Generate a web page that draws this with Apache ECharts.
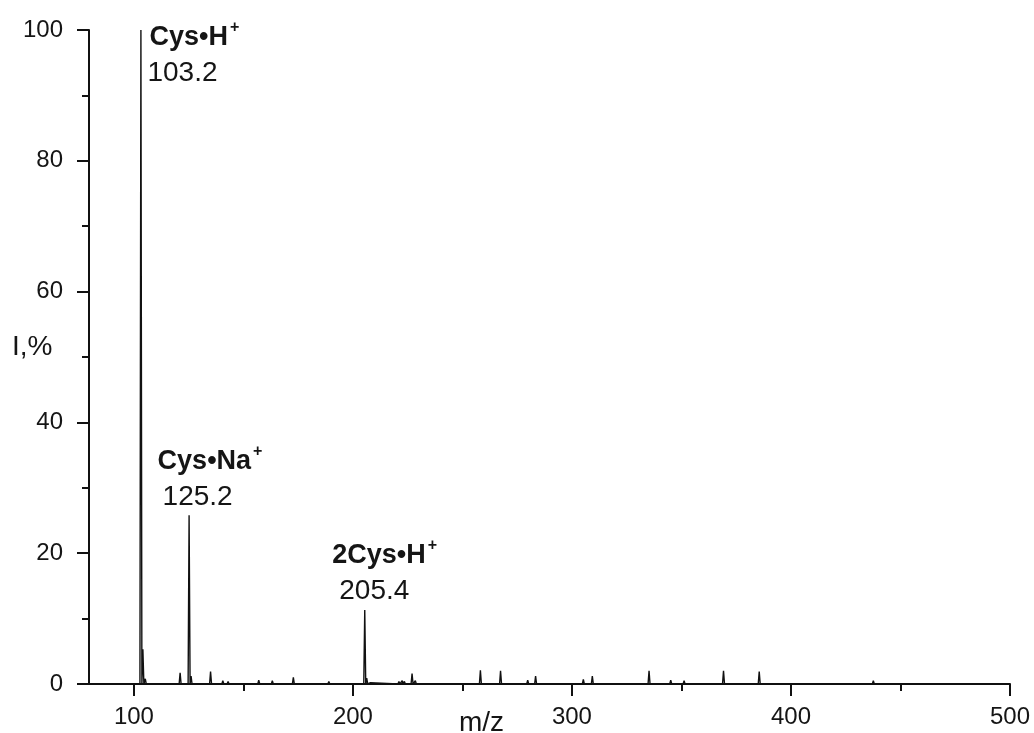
<!DOCTYPE html>
<html><head><meta charset="utf-8">
<script src="https://cdn.jsdelivr.net/npm/echarts@6/dist/echarts.min.js"></script>
<style>html,body{margin:0;padding:0;background:#fff}#c{width:1034px;height:733px}</style>
</head><body><div id="c"></div>
<script>
// Peak list (m/z, relative intensity %)
const peakMz = [86.7, 103.2, 104.1, 105.2, 114.5, 121.1, 125.2, 126.1, 135.0, 140.6, 143.0, 157.0, 163.2, 172.8, 175.7, 177.4, 179.2, 189.0, 205.4, 206.3, 208.0, 221.0, 222.5, 223.5, 227.0, 228.5, 244.2, 253.3, 258.2, 267.4, 277.3, 279.8, 283.4, 289.4, 305.2, 309.3, 320.7, 329.0, 335.2, 345.1, 351.2, 369.2, 385.5, 407.3, 415.2, 437.6, 496.7];
const peakIntensity = [0.3, 100, 5.3, 0.8, 0.2, 1.7, 25.8, 1.2, 1.9, 0.5, 0.4, 0.6, 0.5, 1.0, 0.2, 0.2, 0.2, 0.4, 11.3, 0.9, 0.2, 0.4, 0.5, 0.4, 1.6, 0.5, 0.2, 0.3, 2.1, 2.0, 0.3, 0.6, 1.2, 0.2, 0.7, 1.2, 0.2, 0.2, 2.0, 0.6, 0.5, 2.0, 1.9, 0.2, 0.2, 0.5, 0.3];

// Annotated peaks
const annMz = [103.2, 125.2, 205.4];
const annIntensity = [100, 25.8, 11.3];
const annName = ['Cys•H', 'Cys•Na', '2Cys•H'];
const annText = ['103.2', '125.2', '205.4'];

// Axis ticks
const xMajorTicks = [100, 200, 300, 400, 500];
const xMinorTicks = [150, 250, 350, 450];
const xMin = 79.5, xMax = 500;
const yMin = 0, yMax = 100, yStep = 20;

const HALF = 0.45; // drawn half-width of each stick peak (m/z units)
const lineData = [[xMin, 0]];
peakMz.forEach((m, i) => { lineData.push([m - HALF, 0], [m, peakIntensity[i]], [m + HALF, 0]); });
lineData.push([xMax, 0]);

const FONT = 'Liberation Sans, Arial, sans-serif';
const INK = '#111';
const TXT = '#151515';
const labelPos = [[7, -10], [-31, -71], [-32, -72]];
const valueIndent = [0, 5, 7];
const nameIndent = [2, 0, 0];

const annData = annMz.map((m, i) => ({
  value: [m, annIntensity[i]],
  label: {
    show: true,
    position: labelPos[i],
    align: 'left',
    verticalAlign: 'top',
    color: TXT,
    opacity: 1,
    textBorderWidth: 0,
    formatter: '{n|' + annName[i] + '}{s|+}\n{v|' + annText[i] + '}',
    rich: {
      n: {fontFamily: FONT, fontWeight: 'bold', fontSize: 27, lineHeight: 36, color: TXT, padding: [0, 0, 0, nameIndent[i]]},
      s: {fontFamily: FONT, fontWeight: 'bold', fontSize: 16, lineHeight: 15, verticalAlign: 'top', color: TXT, padding: [0, 0, 0, 2]},
      v: {fontFamily: FONT, fontSize: 28, lineHeight: 36, color: TXT, padding: [0, 0, 0, valueIndent[i]]}
    }
  }
}));

const chart = echarts.init(document.getElementById('c'), null, {renderer: 'canvas'});
chart.setOption({
  animation: false,
  backgroundColor: '#fff',
  grid: {left: 89, right: 24, top: 30, bottom: 49, containLabel: false, outerBoundsMode: 'none'},
  xAxis: [{
    type: 'value', min: xMin, max: xMax,
    axisLine: {show: true, lineStyle: {color: INK, width: 2}},
    axisTick: {show: true, customValues: xMajorTicks, length: 12, lineStyle: {color: INK, width: 2}},
    axisLabel: {customValues: xMajorTicks, fontFamily: FONT, fontSize: 24, color: TXT, margin: 21},
    splitLine: {show: false}
  }, {
    type: 'value', min: xMin, max: xMax, position: 'bottom', offset: 0,
    axisLine: {show: false},
    axisTick: {show: true, customValues: xMinorTicks, length: 7, lineStyle: {color: INK, width: 2}},
    axisLabel: {show: false},
    splitLine: {show: false}
  }],
  yAxis: {
    type: 'value', min: yMin, max: yMax, interval: yStep,
    axisLine: {show: true, lineStyle: {color: INK, width: 2}},
    axisTick: {show: true, length: 12, lineStyle: {color: INK, width: 2}},
    minorTick: {show: true, splitNumber: 2, length: 7, lineStyle: {color: INK, width: 2}},
    axisLabel: {fontFamily: FONT, fontSize: 24, color: TXT, margin: 26},
    splitLine: {show: false},
    minorSplitLine: {show: false}
  },
  graphic: [
    {type: 'text', left: 12, top: 333, style: {text: 'I,%', font: '28px ' + FONT, fill: TXT}},
    {type: 'text', left: 459, top: 709, style: {text: 'm/z', font: '28px ' + FONT, fill: TXT}}
  ],
  series: [{
    type: 'line', data: lineData, xAxisIndex: 0, symbol: 'none', showSymbol: false,
    lineStyle: {color: INK, width: 1.4}, emphasis: {disabled: true}, silent: true
  }, {
    type: 'scatter', data: annData, xAxisIndex: 0, symbol: 'circle', symbolSize: 1,
    itemStyle: {color: 'rgba(0,0,0,0)', opacity: 1}, emphasis: {disabled: true}, silent: true, clip: false
  }]
});
</script></body></html>
